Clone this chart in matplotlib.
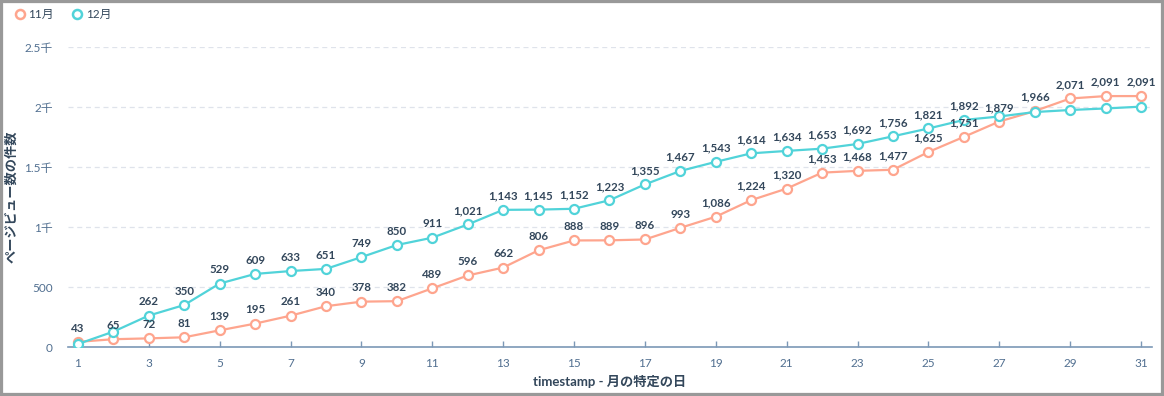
import matplotlib
matplotlib.use("Agg")
import matplotlib.pyplot as plt
from matplotlib.lines import Line2D
from matplotlib.patches import Rectangle

plt.rcParams['font.family'] = ['Lato', 'Noto Sans CJK JP', 'DejaVu Sans']

# データ
days = list(range(1, 32))
nov = [43, 65, 72, 81, 139, 195, 261, 340, 378, 382, 489, 596, 662, 806, 888, 889,
       896, 993, 1086, 1224, 1320, 1453, 1468, 1477, 1625, 1751, 1879, 1966, 2071, 2091, 2091]
dec = [25, 128, 262, 350, 529, 609, 633, 651, 749, 850, 911, 1021, 1143, 1145, 1152, 1223,
       1355, 1467, 1543, 1614, 1634, 1653, 1692, 1756, 1821, 1892, 1921, 1958, 1975, 1988, 2003]
dec_hidden_labels = [1, 2, 27, 28, 29, 30, 31]  # 重なって表示されていないラベル
series_names = ['11月', '12月']
x_ticks = list(range(1, 32, 2))
y_ticks = [0, 500, 1000, 1500, 2000, 2500]
y_tick_labels = ['0', '500', '1千', '1.5千', '2千', '2.5千']

c_nov = '#fea58e'
c_dec = '#51d3d9'
txt = '#33475b'
axis_c = '#7c98b6'

fig = plt.figure(figsize=(11.64, 3.96), dpi=100)
ax = fig.add_axes([0.0584, 0.1237, 0.9313, 0.7576])

for vals, col, name in [(nov, c_nov, series_names[0]), (dec, c_dec, series_names[1])]:
    ax.plot(days, vals, color=col, lw=1.6, marker='o', markersize=6.5,
            markerfacecolor='white', markeredgecolor=col, markeredgewidth=1.6, zorder=3)

# データラベル
for d, v in zip(days, nov):
    ax.annotate(f'{v:,}', (d, v), xytext=(0, 6), textcoords='offset points',
                ha='center', va='bottom', fontsize=8.3, fontweight='bold', color=txt, zorder=5)
for d, v in zip(days, dec):
    if d in dec_hidden_labels:
        continue
    ax.annotate(f'{v:,}', (d, v), xytext=(0, 6), textcoords='offset points',
                ha='center', va='bottom', fontsize=8.3, fontweight='bold', color=txt, zorder=5)

ax.set_xlim(0.72, 31.31)
ax.set_ylim(0, 2500)
ax.set_xticks(x_ticks)
ax.set_yticks(y_ticks)
ax.set_yticklabels(y_tick_labels)

for s in ['top', 'right', 'left']:
    ax.spines[s].set_visible(False)
ax.spines['bottom'].set_color(axis_c)
ax.spines['bottom'].set_linewidth(1.2)

ax.yaxis.grid(True, color='#dfe3eb', linestyle=(0, (4, 3)), lw=0.9)
ax.set_axisbelow(True)
ax.tick_params(axis='x', direction='in', length=4, width=1, color=axis_c,
               labelsize=8.5, labelcolor='#516f90', pad=8)
ax.tick_params(axis='y', length=0, labelsize=8.5, labelcolor='#516f90', pad=11)

ax.set_xlabel('timestamp - 月の特定の日', fontsize=9.5, fontweight='bold', color=txt, labelpad=4)
ax.set_ylabel('ページビュー数の件数', fontsize=9.5, fontweight='bold', color=txt)
ax.yaxis.set_label_coords(-0.047, 0.5)

# 凡例
handles = [Line2D([], [], ls='none', marker='o', markersize=6.5, markerfacecolor='white',
                  markeredgecolor=c, markeredgewidth=1.8) for c in (c_nov, c_dec)]
leg = fig.legend(handles, series_names, loc='upper left', bbox_to_anchor=(0.004, 1.005),
                 ncol=2, frameon=False, fontsize=8.5, handlelength=0.8, handletextpad=0.3,
                 columnspacing=1.6)
for t in leg.get_texts():
    t.set_color(txt)

# 枠線
fig.patches.append(Rectangle((0, 0), 1, 1, transform=fig.transFigure, fill=False,
                             edgecolor='#999999', lw=4.5, zorder=10))

fig.savefig('out.png', dpi=100)
